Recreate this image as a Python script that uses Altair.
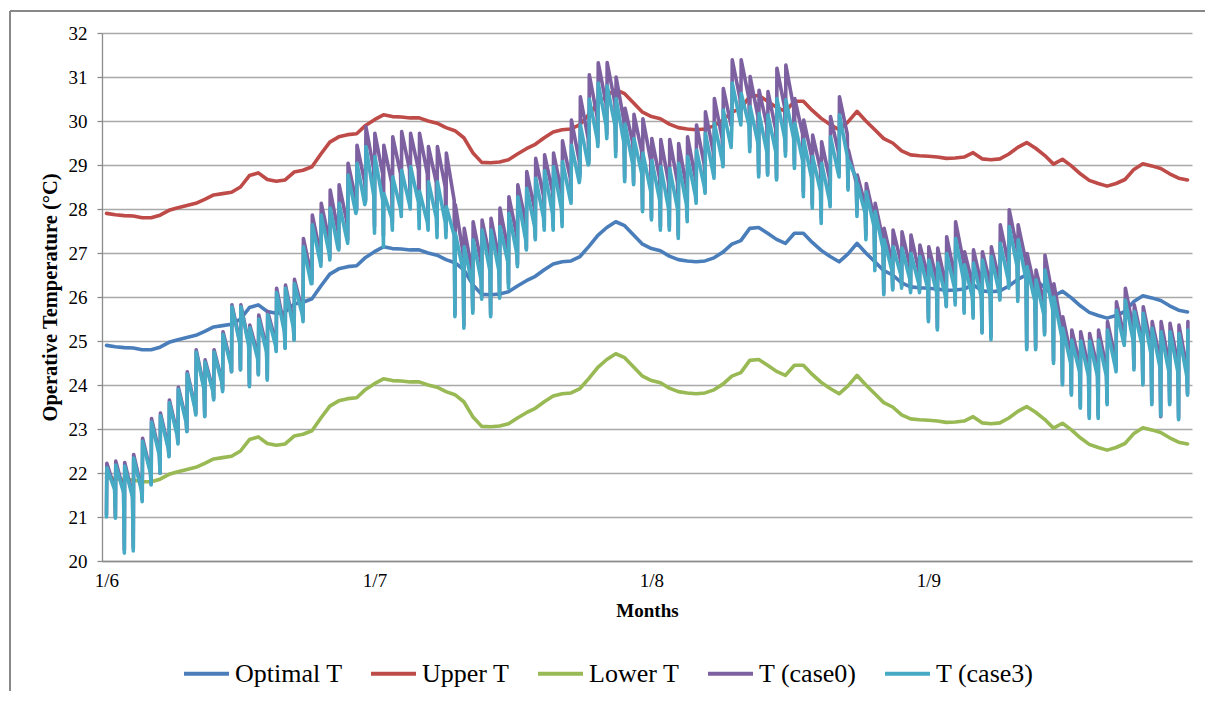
import altair as alt
import pandas as pd

# ---------------- data ----------------
days = list(range(122))  # 1 June .. 30 Sept, one entry per day

optimal = [24.90,24.87,24.85,24.84,24.80,24.80,24.86,24.97,25.03,25.08,
           25.13,25.22,25.32,25.35,25.38,25.50,25.76,25.82,25.67,25.63,
           25.66,25.84,25.88,25.96,26.25,26.52,26.64,26.69,26.71,26.90,
           27.03,27.14,27.10,27.09,27.07,27.07,27.00,26.95,26.85,26.78,
           26.62,26.28,26.06,26.05,26.07,26.12,26.25,26.37,26.47,26.62,
           26.75,26.80,26.82,26.92,27.15,27.40,27.58,27.71,27.62,27.41,
           27.20,27.10,27.05,26.93,26.85,26.82,26.80,26.82,26.89,27.02,
           27.20,27.28,27.56,27.58,27.45,27.31,27.22,27.45,27.45,27.24,
           27.06,26.92,26.80,26.98,27.22,27.00,26.80,26.60,26.50,26.32,
           26.23,26.21,26.20,26.18,26.15,26.16,26.18,26.28,26.14,26.12,
           26.14,26.25,26.40,26.51,26.38,26.22,26.02,26.13,25.98,25.80,
           25.65,25.58,25.52,25.58,25.67,25.90,26.03,25.98,25.92,25.80,
           25.70,25.66]

upper = [27.90,27.87,27.85,27.84,27.80,27.80,27.86,27.97,28.03,28.08,
         28.13,28.22,28.32,28.35,28.38,28.50,28.76,28.82,28.67,28.63,
         28.66,28.84,28.88,28.96,29.25,29.52,29.64,29.69,29.71,29.90,
         30.03,30.14,30.10,30.09,30.07,30.07,30.00,29.95,29.85,29.78,
         29.62,29.28,29.06,29.05,29.07,29.12,29.25,29.37,29.47,29.62,
         29.75,29.80,29.82,29.92,30.15,30.40,30.58,30.71,30.62,30.41,
         30.20,30.10,30.05,29.93,29.85,29.82,29.80,29.82,29.89,30.02,
         30.20,30.28,30.56,30.58,30.45,30.31,30.22,30.45,30.45,30.24,
         30.06,29.92,29.80,29.98,30.22,30.00,29.80,29.60,29.50,29.32,
         29.23,29.21,29.20,29.18,29.15,29.16,29.18,29.28,29.14,29.12,
         29.14,29.25,29.40,29.51,29.38,29.22,29.02,29.13,28.98,28.80,
         28.65,28.58,28.52,28.58,28.67,28.90,29.03,28.98,28.92,28.80,
         28.70,28.66]

lower = [21.90,21.87,21.85,21.84,21.80,21.80,21.86,21.97,22.03,22.08,
         22.13,22.22,22.32,22.35,22.38,22.50,22.76,22.82,22.67,22.63,
         22.66,22.84,22.88,22.96,23.25,23.52,23.64,23.69,23.71,23.90,
         24.03,24.14,24.10,24.09,24.07,24.07,24.00,23.95,23.85,23.78,
         23.62,23.28,23.06,23.05,23.07,23.12,23.25,23.37,23.47,23.62,
         23.75,23.80,23.82,23.92,24.15,24.40,24.58,24.71,24.62,24.41,
         24.20,24.10,24.05,23.93,23.85,23.82,23.80,23.82,23.89,24.02,
         24.20,24.28,24.56,24.58,24.45,24.31,24.22,24.45,24.45,24.24,
         24.06,23.92,23.80,23.98,24.22,24.00,23.80,23.60,23.50,23.32,
         23.23,23.21,23.20,23.18,23.15,23.16,23.18,23.28,23.14,23.12,
         23.14,23.25,23.40,23.51,23.38,23.22,23.02,23.13,22.98,22.80,
         22.65,22.58,22.52,22.58,22.67,22.90,23.03,22.98,22.92,22.80,
         22.70,22.66]

# T (case3): daily minimum (start of day), daily peak, value at end of day
case3_min = [21.00,20.97,20.18,20.23,21.35,21.73,21.99,22.37,22.66,22.94,
             23.32,23.28,23.66,23.85,24.30,24.34,23.96,24.23,24.11,24.76,
             24.83,25.02,25.44,26.30,26.70,26.84,27.07,27.22,27.98,28.17,
             27.45,27.14,27.52,27.83,28.00,27.55,27.52,27.35,27.35,25.55,
             25.29,25.63,25.95,25.55,25.97,26.20,26.69,27.07,27.30,27.52,
             27.52,27.60,28.13,28.73,29.04,29.42,29.60,29.19,28.62,28.55,
             27.94,27.75,27.52,27.52,27.33,27.71,28.13,28.36,28.70,28.96,
             29.91,29.91,29.30,28.73,28.77,28.66,29.20,28.92,28.28,28.02,
             27.67,28.05,28.73,28.43,27.83,27.30,26.60,26.05,26.16,26.20,
             26.10,26.10,25.44,25.25,25.78,25.82,25.63,25.52,25.18,25.03,
             25.93,26.20,25.90,24.80,24.80,25.14,24.49,24.00,23.77,23.47,
             23.24,23.24,23.55,24.30,25.20,24.34,24.00,23.55,23.30,23.55,
             23.21,23.77]
case3_peak = [22.12,22.18,22.16,22.34,22.72,23.16,23.30,23.60,23.90,24.25,
              24.75,24.52,24.75,25.15,25.78,25.78,25.30,25.50,25.60,26.10,
              26.20,26.30,27.14,27.64,27.86,28.02,28.13,28.77,29.04,29.42,
              29.19,28.35,28.73,28.88,28.96,28.40,28.62,28.62,28.05,27.45,
              27.14,27.30,27.52,27.52,27.60,27.90,28.28,28.47,28.70,28.87,
              28.96,29.08,29.45,29.91,30.50,30.86,30.80,30.51,29.93,29.60,
              29.27,29.10,28.96,28.92,29.04,29.19,29.34,29.72,29.95,30.25,
              30.86,30.63,30.33,30.17,30.14,30.51,30.48,29.95,29.57,29.19,
              29.04,29.64,30.14,29.10,28.58,28.39,27.94,27.30,27.14,27.11,
              26.99,26.92,26.84,26.77,26.99,27.33,26.73,26.77,26.84,26.92,
              27.22,27.60,27.30,26.69,26.39,26.61,26.00,25.29,25.02,25.00,
              25.00,25.02,25.25,25.70,25.93,25.67,25.63,25.29,25.21,25.21,
              25.17,25.25]
case3_end = [21.62,21.55,21.45,21.60,22.00,22.40,22.55,22.85,23.15,23.45,
             23.90,23.85,24.05,24.45,24.95,24.90,24.60,24.75,24.90,25.20,
             25.30,25.60,26.30,26.80,27.00,27.10,27.30,27.90,28.10,28.30,
             28.20,27.80,28.00,28.10,28.15,27.70,27.80,27.70,27.40,26.60,
             26.30,26.40,26.60,26.60,26.80,27.00,27.30,27.60,27.80,27.90,
             28.00,28.20,28.60,29.00,29.60,29.90,29.90,29.50,29.00,28.80,
             28.40,28.20,28.00,28.00,28.10,28.30,28.50,28.80,29.10,29.40,
             30.00,29.90,29.50,29.30,29.30,29.60,29.60,29.10,28.70,28.40,
             28.20,28.80,29.20,28.70,27.90,27.60,27.10,26.60,26.50,26.40,
             26.30,26.20,26.10,26.00,26.20,26.40,26.00,26.00,26.00,26.10,
             26.40,26.70,26.40,25.90,25.60,25.70,25.10,24.50,24.30,24.20,
             24.20,24.20,24.40,24.90,25.00,24.90,24.70,24.40,24.30,24.30,
             24.20]

# T (case0)
case0_min = [21.05,21.00,20.25,20.30,21.40,21.75,22.00,22.40,22.70,22.95,
             23.35,23.30,23.70,23.90,24.30,24.35,24.00,24.25,24.15,24.80,
             24.85,25.05,25.50,26.40,26.80,26.90,27.10,27.30,28.00,28.20,
             27.60,27.40,27.70,28.00,28.10,27.90,27.80,27.60,27.50,25.60,
             25.35,25.70,26.00,25.60,26.00,26.30,26.75,27.10,27.35,27.60,
             27.60,27.70,28.20,28.80,29.10,29.50,29.70,29.30,28.70,28.60,
             28.00,27.80,27.60,27.60,27.40,27.80,28.20,28.40,28.80,29.00,
             30.00,30.00,29.40,28.80,28.80,28.70,29.30,29.00,28.40,28.10,
             27.80,28.10,28.80,28.50,27.90,27.40,26.70,26.10,26.20,26.25,
             26.15,26.15,25.50,25.30,25.80,25.90,25.70,25.60,25.20,25.10,
             26.00,26.30,26.00,24.85,24.85,25.20,24.55,24.05,23.80,23.50,
             23.30,23.30,23.60,24.35,25.25,24.40,24.05,23.60,23.28,23.60,
             23.25,23.80]
case0_peak = [22.22,22.27,22.24,22.42,22.79,23.24,23.36,23.66,23.95,24.30,
              24.80,24.57,24.80,25.21,25.82,25.82,25.36,25.59,25.67,26.20,
              26.27,26.40,27.33,27.86,28.13,28.43,28.55,29.04,29.45,29.87,
              29.72,29.45,29.64,29.76,29.72,29.72,29.42,29.42,29.27,28.10,
              27.56,27.71,27.75,27.79,28.02,28.28,28.55,28.85,29.15,29.23,
              29.27,29.55,30.02,30.55,31.05,31.32,31.33,31.00,30.29,30.15,
              30.05,29.60,29.58,29.58,29.49,29.64,29.91,30.21,30.51,30.74,
              31.39,31.39,31.01,30.70,30.67,31.20,31.27,30.51,30.02,29.68,
              29.53,30.10,30.55,29.34,28.77,28.58,28.13,27.56,27.52,27.48,
              27.41,27.18,27.14,27.11,27.37,27.71,27.03,27.07,27.03,27.14,
              27.64,27.98,27.64,26.99,26.61,26.95,26.30,25.55,25.25,25.21,
              25.17,25.25,25.44,25.89,26.20,25.82,25.78,25.44,25.44,25.40,
              25.36,25.44]
case0_end = [21.66,21.60,21.50,21.65,22.05,22.45,22.60,22.90,23.20,23.50,
             23.95,23.90,24.10,24.50,25.00,24.95,24.70,24.85,25.00,25.30,
             25.40,25.70,26.50,27.00,27.30,27.50,27.70,28.20,28.60,28.90,
             28.80,28.60,28.80,28.90,28.90,28.80,28.60,28.50,28.20,27.00,
             26.60,26.80,26.90,26.90,27.10,27.40,27.70,28.00,28.30,28.40,
             28.40,28.70,29.10,29.60,30.10,30.40,30.40,30.00,29.50,29.30,
             29.10,28.70,28.60,28.60,28.50,28.70,29.00,29.30,29.60,29.90,
             30.50,30.50,30.10,29.90,29.80,30.30,30.30,29.70,29.20,28.90,
             28.70,29.30,29.70,28.60,28.10,27.80,27.30,26.80,26.80,26.70,
             26.60,26.50,26.40,26.30,26.50,26.80,26.30,26.30,26.30,26.40,
             26.80,27.10,26.80,26.20,25.90,26.00,25.30,24.70,24.50,24.40,
             24.40,24.40,24.60,25.10,25.30,25.00,24.90,24.60,24.50,24.50,
             24.40]

# hour of day at which the min, peak and end-of-day values occur
hour_min, hour_peak, hour_end = 0, 1, 22

series_names = ["Optimal T", "Upper T", "Lower T", "T (case0)", "T (case3)"]
series_colors = ["#4A7EBB", "#BE4B48", "#98B954", "#7D60A0", "#46AAC5"]

tick_days = [0, 30, 61, 92]
tick_labels = ["1/6", "1/7", "1/8", "1/9"]
y_ticks = list(range(20, 33))

# ---------------- build table ----------------
rows = []
for name, vals in zip(series_names[:3], [optimal, upper, lower]):
    for d, v in zip(days, vals):
        rows.append({"t": d, "T": v, "series": name})


def add_case(name, mins, peaks, ends):
    for i, d in enumerate(days):
        rows.append({"t": d + hour_min / 24, "T": mins[i], "series": name})
        rows.append({"t": d + hour_peak / 24, "T": peaks[i], "series": name})
        if i < len(ends):
            rows.append({"t": d + hour_end / 24, "T": ends[i], "series": name})


add_case("T (case0)", case0_min, case0_peak, case0_end)
add_case("T (case3)", case3_min, case3_peak, case3_end)
df = pd.DataFrame(rows)

label_expr = " : ".join(
    f"datum.value == {d} ? '{l}'" for d, l in zip(tick_days, tick_labels)
) + " : ''"

FONT = "Liberation Serif"
AX = "#8c8c8c"

x_enc = alt.X(
    "t:Q",
    scale=alt.Scale(domain=[-0.5, 121.5], nice=False, zero=False),
    axis=alt.Axis(values=tick_days, labelExpr=label_expr, grid=False, ticks=False,
                  domainColor=AX, domainWidth=1.3, labelFontSize=19, labelPadding=10,
                  labelFlush=False, labelColor="black", labelFont=FONT,
                  title="Months", titleFontSize=19, titleFontWeight="bold",
                  titleFont=FONT, titleColor="black", titlePadding=11),
)
y_enc = alt.Y(
    "T:Q",
    scale=alt.Scale(domain=[20, 32], nice=False, zero=False),
    axis=alt.Axis(values=y_ticks, format="d", grid=True, gridColor="#a9a9a9",
                  gridWidth=1.3, domainColor=AX, domainWidth=1.3, tickColor=AX,
                  tickSize=5, tickWidth=1.3, labelFontSize=19, labelPadding=10,
                  labelColor="black", labelFont=FONT,
                  title="Operative Temperature (°C)", titleFontSize=20.5,
                  titleFontWeight="bold", titleFont=FONT, titleColor="black",
                  titlePadding=8),
)
color_enc = alt.Color(
    "series:N",
    scale=alt.Scale(domain=series_names, range=series_colors),
    legend=alt.Legend(orient="none", legendX=80, legendY=616, direction="horizontal",
                      columns=5, title=None, symbolType="stroke", symbolSize=2025,
                      symbolStrokeWidth=4, labelFontSize=26, labelFont=FONT,
                      labelColor="black", labelOffset=4, columnPadding=20,
                      padding=0, rowPadding=0),
)

layers = []
for name in series_names:
    layers.append(
        alt.Chart(df)
        .transform_filter(alt.datum.series == name)
        .mark_line(strokeWidth=3.6, strokeJoin="round", strokeCap="round")
        .encode(x=x_enc, y=y_enc, color=color_enc)
    )

frame_df = pd.DataFrame({"k": [0]})
frame_top = alt.Chart(frame_df).mark_rule(color="#888888", strokeWidth=2).encode(
    x=alt.value(-92), x2=alt.value(1110), y=alt.value(-22))
frame_left = alt.Chart(frame_df).mark_rule(color="#888888", strokeWidth=2).encode(
    x=alt.value(-92), y=alt.value(-22), y2=alt.value(700))

chart = (
    alt.layer(*layers, frame_top, frame_left)
    .properties(width=1090, height=528,
                autosize=alt.AutoSizeParams(type="none"),
                padding={"left": 94, "top": 25, "right": 13, "bottom": 130})
    .configure_view(strokeWidth=0)
)

chart.save("out.html", embed_options={"renderer": "svg", "actions": False})
